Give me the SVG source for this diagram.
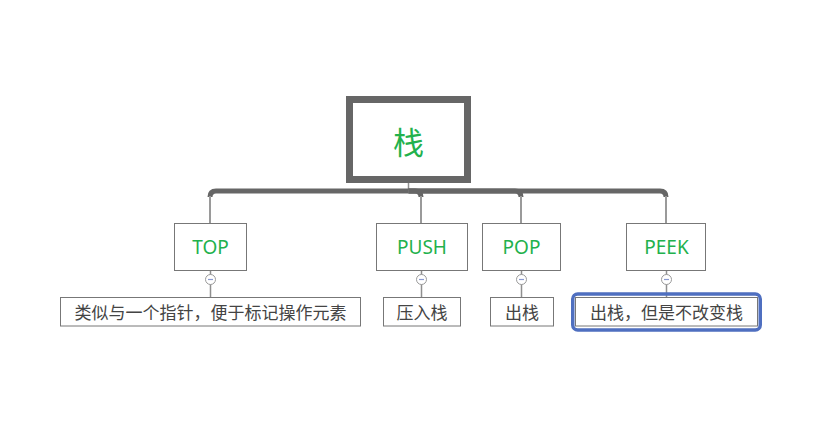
<svg xmlns="http://www.w3.org/2000/svg" width="834" height="442" viewBox="0 0 834 442">
<style>
.bg{fill:#ffffff}
.bar{fill:none;stroke:#666666;stroke-width:5;stroke-linecap:butt}
.thin{fill:none;stroke:#9a9a9a;stroke-width:2}
.sub{fill:none;stroke:#8f8f8f;stroke-width:1.5}
.box{fill:#ffffff;stroke:#777777;stroke-width:1}
.root{fill:#ffffff;stroke:#666666;stroke-width:7}
.tg{font-family:"Noto Sans","Noto Sans CJK SC",sans-serif;fill:#22b14c;text-anchor:middle;dominant-baseline:central}
.tl{font-family:"Noto Sans CJK SC","Noto Sans",sans-serif;fill:#444444;font-size:17px;text-anchor:middle;dominant-baseline:central}
.col{fill:#ffffff;stroke:#9a9a9a;stroke-width:1}
.minus{stroke:#8a9ad0;stroke-width:1.2}
.sel{fill:none;stroke:#4f6fc0;stroke-width:3.5}
</style>
<rect class="bg" x="0" y="0" width="834" height="442"/>
<g id="connectors">
  <line class="sub" x1="408.5" y1="183" x2="408.5" y2="190"/>
  <path class="bar" d="M408.5 191 H216 Q210 191 210 197"/>
  <path class="bar" d="M408.5 191 H415 Q421 191 421 197"/>
  <path class="bar" d="M408.5 191 H515 Q521 191 521 197"/>
  <path class="bar" d="M408.5 191 H660 Q666 191 666 197"/>
  <line class="thin" x1="210" y1="196" x2="210" y2="223"/>
  <line class="thin" x1="421" y1="196" x2="421" y2="223"/>
  <line class="thin" x1="521" y1="196" x2="521" y2="223"/>
  <line class="thin" x1="666" y1="196" x2="666" y2="223"/>
  <line class="sub" x1="210.5" y1="271" x2="210.5" y2="297"/>
  <line class="sub" x1="421.5" y1="271" x2="421.5" y2="297"/>
  <line class="sub" x1="521.5" y1="271" x2="521.5" y2="297"/>
  <line class="sub" x1="666.5" y1="271" x2="666.5" y2="297"/>
</g>
<g id="root">
  <rect class="root" x="349.5" y="99.5" width="118" height="80"/>
  <text class="tg" x="408.5" y="140" style="font-family:'Noto Sans CJK SC',sans-serif;font-size:31px">栈</text>
</g>
<g id="top">
  <rect class="box" x="174.5" y="223.5" width="72" height="47"/>
  <text class="tg" x="210.5" y="247" font-size="19">TOP</text>
  <circle class="col" cx="210.5" cy="279.5" r="5"/>
  <line class="minus" x1="208" y1="279.5" x2="213" y2="279.5"/>
</g>
<g id="push">
  <rect class="box" x="376.5" y="223.5" width="91" height="47"/>
  <text class="tg" x="422" y="247" font-size="19">PUSH</text>
  <circle class="col" cx="421.5" cy="279.5" r="5"/>
  <line class="minus" x1="419" y1="279.5" x2="424" y2="279.5"/>
</g>
<g id="pop">
  <rect class="box" x="482.5" y="223.5" width="78" height="47"/>
  <text class="tg" x="521.5" y="247" font-size="19">POP</text>
  <circle class="col" cx="521.5" cy="279.5" r="5"/>
  <line class="minus" x1="519" y1="279.5" x2="524" y2="279.5"/>
</g>
<g id="peek">
  <rect class="box" x="626.5" y="223.5" width="79" height="47"/>
  <text class="tg" x="666.5" y="247" font-size="19">PEEK</text>
  <circle class="col" cx="666.5" cy="279.5" r="5"/>
  <line class="minus" x1="664" y1="279.5" x2="669" y2="279.5"/>
</g>
<g id="top-leaf">
  <rect class="box" x="60.5" y="297.5" width="300" height="28.5"/>
  <text class="tl" x="210.5" y="311.5">类似与一个指针，便于标记操作元素</text>
</g>
<g id="push-leaf">
  <rect class="box" x="383.5" y="297.5" width="77" height="28.5"/>
  <text class="tl" x="422" y="311.5">压入栈</text>
</g>
<g id="pop-leaf">
  <rect class="box" x="490.5" y="297.5" width="63" height="28.5"/>
  <text class="tl" x="522" y="311.5">出栈</text>
</g>
<g id="peek-leaf">
  <rect class="box" x="575.5" y="297.5" width="182" height="28.5"/>
  <rect class="sel" x="572.75" y="294" width="187.5" height="36" rx="5"/>
  <text class="tl" x="666.5" y="311.5">出栈，但是不改变栈</text>
</g>
</svg>
